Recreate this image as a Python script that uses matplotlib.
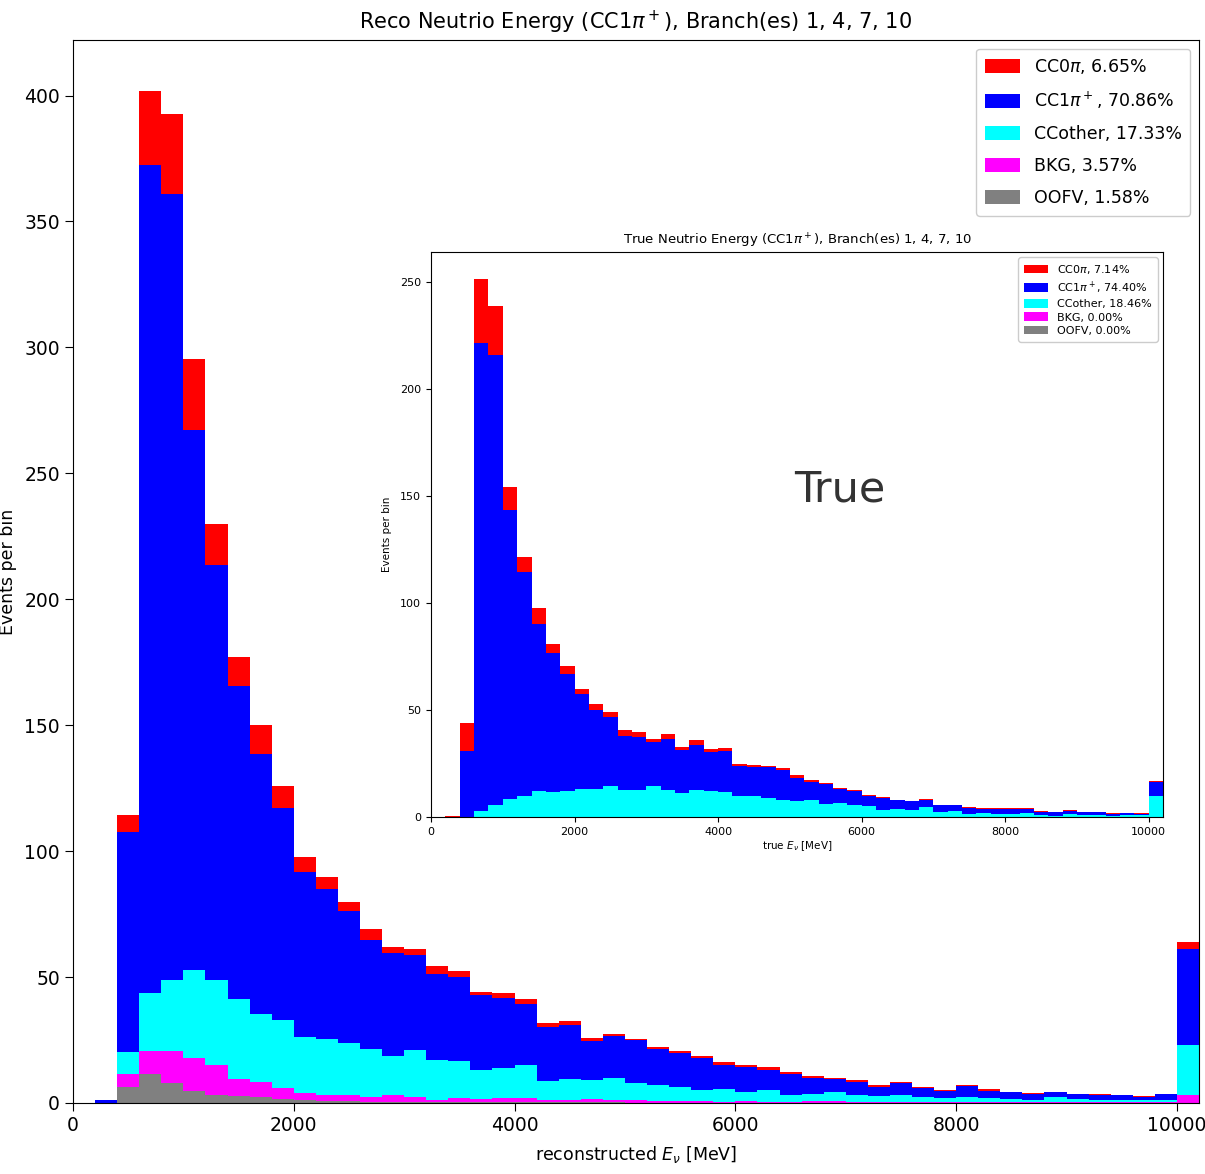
import numpy as np
import matplotlib.pyplot as plt

# binning: 200 MeV bins, last bin is overflow (10000-10200)
bin_edges = np.arange(0, 10201, 200)

# reco energy, events per bin for each channel
reco_oofv = [0, 0, 6.3, 11.4, 8.1, 4.6, 3.1, 2.6, 2.3, 1.5, 1.0, 0.8, 0.6, 0.5, 0.5, 0.4,
             0.3, 0.3, 0.3, 0.3, 0.2, 0.2, 0.2, 0.2, 0.2, 0.1, 0.1, 0.1, 0.1, 0, 0, 0, 0,
             0, 0, 0, 0, 0, 0, 0, 0, 0, 0, 0, 0, 0, 0, 0, 0, 0, 0]
reco_bkg = [0, 0, 5.1, 9.2, 12.5, 13.2, 12.1, 7.1, 5.9, 4.4, 2.8, 2.4, 2.6, 1.8, 2.5, 1.9,
            0.9, 1.8, 1.2, 1.8, 1.6, 0.8, 1.0, 1.4, 0.9, 0.9, 0.6, 0.6, 0.6, 0.3, 0.6, 0.3,
            0.3, 0.6, 0.7, 0.3, 0.3, 0.5, 0.5, 0.3, 0.2, 0.2, 0.2, 0.2, 0.2, 0.2, 0.2, 0.2,
            0.2, 0.2, 3.2]
reco_ccother = [0, 0, 8.8, 23.0, 28.4, 35.1, 33.8, 31.6, 27.1, 27.1, 22.3, 22.2, 20.5, 19.0,
                15.6, 18.7, 15.8, 14.5, 11.6, 11.9, 13.4, 7.7, 8.2, 7.4, 8.9, 6.8, 6.3, 5.5,
                4.3, 5.2, 3.8, 4.9, 2.9, 3.0, 3.7, 2.7, 2.5, 2.7, 1.8, 1.6, 2.3, 1.7, 1.3,
                1.0, 2.1, 1.3, 1.0, 1.0, 0.8, 0.8, 19.7]
reco_cc1pi = [0, 1.3, 87.2, 329.0, 312.0, 214.4, 164.7, 124.4, 103.4, 84.2, 65.7, 59.4, 52.5,
              43.4, 40.8, 37.6, 34.3, 33.3, 29.9, 27.8, 24.0, 21.6, 21.5, 15.7, 16.6, 17.2,
              14.4, 13.6, 12.9, 9.4, 9.9, 7.9, 8.3, 6.3, 5.0, 5.5, 3.7, 4.6, 3.5, 3.0, 4.1,
              3.0, 2.8, 2.5, 1.9, 2.1, 2.0, 2.0, 1.4, 2.4, 38.1]
reco_cc0pi = [0, 0, 6.9, 29.4, 31.5, 28.2, 16.3, 11.3, 11.3, 8.8, 5.7, 4.8, 3.6, 4.3, 2.4,
              2.4, 3.1, 2.5, 1.2, 1.7, 1.9, 1.6, 1.6, 1.0, 0.9, 0.5, 1.0, 0.8, 0.6, 1.2, 0.9,
              1.0, 0.6, 0.7, 0.5, 0.5, 0.5, 0.7, 0.4, 0.3, 0.6, 0.5, 0, 0.3, 0, 0, 0.4, 0,
              0.4, 0, 3.0]

# true energy (inset)
true_ccother = [0, 0, 0, 2.7, 5.7, 8.2, 9.7, 12.0, 11.5, 12.0, 13.2, 12.9, 14.3, 12.5, 12.5,
                14.7, 12.5, 11.1, 12.5, 12.1, 11.8, 9.7, 9.7, 8.7, 8.1, 7.6, 8.1, 5.9, 6.7,
                5.6, 5.0, 3.1, 3.7, 3.4, 4.7, 2.3, 2.8, 1.6, 1.9, 1.6, 1.6, 2.0, 0.8, 0.6,
                1.2, 0.9, 0.9, 0.6, 1.1, 0.9, 9.7]
true_cc1pi = [0, 0, 30.8, 218.6, 210.2, 135.4, 104.9, 78.2, 65.0, 54.6, 44.1, 37.2, 32.6,
              25.5, 25.1, 20.2, 24.0, 20.4, 21.3, 18.3, 19.0, 14.0, 13.8, 14.8, 14.0, 10.8,
              8.4, 9.4, 6.4, 6.5, 4.8, 5.8, 4.2, 3.9, 3.1, 3.2, 2.7, 2.6, 2.0, 2.3, 2.3, 1.7,
              1.7, 1.5, 1.8, 1.2, 1.2, 1.0, 0.7, 0.5, 6.5]
true_cc0pi = [0, 0.3, 13.1, 30.1, 22.6, 10.4, 7.0, 7.6, 4.4, 3.8, 2.5, 2.7, 2.2, 2.6, 2.1,
              1.3, 2.2, 1.4, 2.0, 1.5, 1.3, 1.2, 0.8, 0.5, 0.8, 1.1, 0.8, 0.6, 0.6, 0.7, 0.5,
              0.3, 0.2, 0.2, 0.5, 0.1, 0.1, 0.5, 0.1, 0.1, 0.1, 0.3, 0.1, 0.1, 0.4, 0.1, 0.1,
              0.1, 0.1, 0.3, 0.5]
true_zero = [0] * 51

reco_labels = ['OOFV, 1.58%', 'BKG, 3.57%', 'CCother, 17.33%',
               'CC1$\\pi^+$, 70.86%', 'CC0$\\pi$, 6.65%']
true_labels = ['OOFV, 0.00%', 'BKG, 0.00%', 'CCother, 18.46%',
               'CC1$\\pi^+$, 74.40%', 'CC0$\\pi$, 7.14%']
colors = ['gray', 'magenta', 'cyan', 'blue', 'red']


def stacked(ax, layers, labels):
    left = bin_edges[:-1]
    bottom = np.zeros(len(left))
    handles = []
    for vals, lab, c in zip(layers, labels, colors):
        vals = np.array(vals, dtype=float)
        b = ax.bar(left, vals, width=200, bottom=bottom, align='edge',
                   color=c, linewidth=0, label=lab)
        bottom += vals
        handles.append(b)
    return handles[::-1], bottom


fig = plt.figure(figsize=(12.05, 11.74), dpi=100)

ax = fig.add_axes([0.0606, 0.0605, 0.9344, 0.9055])
h, tot = stacked(ax, [reco_oofv, reco_bkg, reco_ccother, reco_cc1pi, reco_cc0pi], reco_labels)
ax.set_xlim(0, 10200)
ax.set_ylim(0, tot.max() * 1.05)
ax.set_xticks([0, 2000, 4000, 6000, 8000, 10000])
ax.tick_params(labelsize=13.5, length=6)
ax.set_title('Reco Neutrio Energy (CC1$\\pi^+$), Branch(es) 1, 4, 7, 10', fontsize=15, pad=8)
ax.set_xlabel('reconstructed $E_\\nu$ [MeV]', fontsize=12.5, labelpad=6)
ax.set_ylabel('Events per bin', fontsize=12.5, labelpad=5)
ax.legend(handles=h, labels=[x.get_label() for x in h], loc='upper right',
          fontsize=12.5, handlelength=2.0, handleheight=0.86, handletextpad=0.8,
          borderpad=0.5, labelspacing=0.8, framealpha=1)

ins = fig.add_axes([0.3577, 0.3041, 0.6075, 0.4813])
h2, tot2 = stacked(ins, [true_zero, true_zero, true_ccother, true_cc1pi, true_cc0pi], true_labels)
ins.set_xlim(0, 10200)
ins.set_ylim(0, tot2.max() * 1.05)
ins.set_xticks([0, 2000, 4000, 6000, 8000, 10000])
ins.tick_params(labelsize=8, length=3.5)
ins.set_title('True Neutrio Energy (CC1$\\pi^+$), Branch(es) 1, 4, 7, 10', fontsize=9.5, pad=5)
ins.set_xlabel('true $E_\\nu$ [MeV]', fontsize=7.5, labelpad=2)
ins.set_ylabel('Events per bin', fontsize=7.5, labelpad=6)
ins.legend(handles=h2, labels=[x.get_label() for x in h2], loc='upper right',
           fontsize=8, handlelength=2.2, handleheight=0.8, borderpad=0.5,
           labelspacing=0.3, framealpha=1)

fig.text(0.697, 0.583, 'True', fontsize=31, color='#333333', ha='center', va='center')

fig.savefig('out.png', dpi=100)
